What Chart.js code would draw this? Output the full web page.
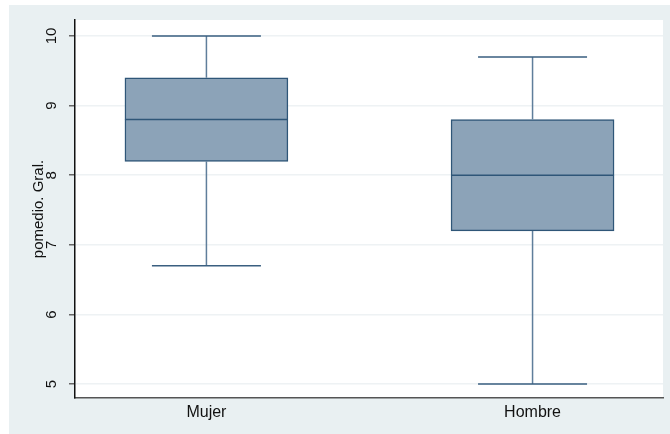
<!DOCTYPE html>
<html>
<head>
<meta charset="utf-8">
<script src="https://cdn.jsdelivr.net/npm/chart.js@4/dist/chart.umd.min.js"></script>
<style>
  html, body { margin: 0; padding: 0; background: #ffffff; }
  #wrap { position: relative; width: 670px; height: 434px; }
</style>
</head>
<body>
<div id="wrap"><canvas id="chart" width="670" height="434"></canvas></div>
<script>
// Box plot data
const categories = ['Mujer', 'Hombre'];
const positions = [1, 2];
const minValues = [6.7, 5.0];
const q1Values = [8.2, 7.2];
const medianValues = [8.8, 8.0];
const q3Values = [9.4, 8.8];
const maxValues = [10.0, 9.7];
const yTicks = [5, 6, 7, 8, 9, 10];

const COLORS = {
    page: '#e9f0f2',
    plot: '#ffffff',
    box: '#8ca3b8',
    boxBorder: '#2f5678',
    whisker: '#5f7e9b',
    cap: '#3a5f80',
    grid: '#eef2f4'
};

/**
 * Paints the outer panel and the white plot region
 */
const backgroundPlugin = {
    id: 'stataBackground',
    beforeDraw(chart) {
        const { ctx, chartArea } = chart;
        ctx.save();
        ctx.fillStyle = COLORS.page;
        ctx.fillRect(9, 5, chart.width - 9, 429);
        ctx.fillStyle = COLORS.plot;
        ctx.fillRect(chartArea.left, chartArea.top,
            chartArea.right - chartArea.left, chartArea.bottom - chartArea.top);
        ctx.restore();
    }
};

/**
 * Draws medians, whiskers and caps from the scales
 */
const boxPlugin = {
    id: 'boxParts',
    afterDatasetsDraw(chart) {
        const { ctx, scales } = chart;
        const xs = scales.x, ys = scales.y;
        const boxHalf = 81.5, capHalf = 54.5;
        ctx.save();
        positions.forEach((p, i) => {
            const cx = xs.getPixelForValue(p);
            // median
            ctx.strokeStyle = COLORS.boxBorder;
            ctx.lineWidth = 1.5;
            const ym = ys.getPixelForValue(medianValues[i]);
            ctx.beginPath();
            ctx.moveTo(cx - boxHalf, ym);
            ctx.lineTo(cx + boxHalf, ym);
            ctx.stroke();
            // whiskers
            ctx.strokeStyle = COLORS.whisker;
            ctx.beginPath();
            ctx.moveTo(cx, ys.getPixelForValue(q3Values[i]));
            ctx.lineTo(cx, ys.getPixelForValue(maxValues[i]));
            ctx.moveTo(cx, ys.getPixelForValue(q1Values[i]));
            ctx.lineTo(cx, ys.getPixelForValue(minValues[i]));
            ctx.stroke();
            // caps
            ctx.strokeStyle = COLORS.cap;
            ctx.beginPath();
            [minValues[i], maxValues[i]].forEach(v => {
                const y = ys.getPixelForValue(v);
                ctx.moveTo(cx - capHalf, y);
                ctx.lineTo(cx + capHalf, y);
            });
            ctx.stroke();
        });
        ctx.restore();
    }
};

const ctx = document.getElementById('chart');
new Chart(ctx, {
    type: 'bar',
    data: {
        datasets: [{
            label: 'pomedio. Gral.',
            data: positions.map((p, i) => ({ x: p, y: [q1Values[i], q3Values[i]] })),
            backgroundColor: COLORS.box,
            borderColor: COLORS.boxBorder,
            borderWidth: 1.5,
            borderSkipped: false,
            barThickness: 163
        }]
    },
    options: {
        responsive: false,
        animation: false,
        layout: { padding: { top: 20, right: 7, left: 0, bottom: 0 } },
        plugins: {
            legend: { display: false },
            tooltip: { enabled: false }
        },
        scales: {
            x: {
                type: 'linear',
                offset: false,
                min: 0.597,
                max: 2.4,
                afterBuildTicks(scale) {
                    scale.ticks = positions.map(v => ({ value: v }));
                },
                afterFit(scale) { scale.height = 36; },
                ticks: {
                    padding: 5,
                    color: '#111',
                    font: { family: 'Liberation Sans, Arial, sans-serif', size: 16 },
                    callback: (v) => categories[positions.indexOf(v)] ?? ''
                },
                grid: { display: false, drawTicks: false },
                border: { display: true, color: '#555', width: 1.5 }
            },
            y: {
                type: 'linear',
                min: 4.8,
                max: 10.23,
                afterBuildTicks(scale) {
                    scale.ticks = yTicks.map(v => ({ value: v }));
                },
                afterFit(scale) { scale.width = 75; },
                ticks: {
                    includeBounds: false,
                    minRotation: 90,
                    maxRotation: 90,
                    crossAlign: 'center',
                    padding: 9,
                    color: '#111',
                    font: { family: 'Liberation Sans, Arial, sans-serif', size: 15 }
                },
                grid: {
                    color: COLORS.grid,
                    lineWidth: 1.5,
                    tickColor: '#666',
                    tickLength: 6,
                    tickWidth: 1.5
                },
                border: { display: true, color: '#111', width: 1.5 },
                title: {
                    display: true,
                    text: 'pomedio. Gral.',
                    color: '#111',
                    padding: { top: 30, bottom: 0 },
                    font: { family: 'Liberation Sans, Arial, sans-serif', size: 15 }
                }
            }
        }
    },
    plugins: [backgroundPlugin, boxPlugin]
});
</script>
</body>
</html>
